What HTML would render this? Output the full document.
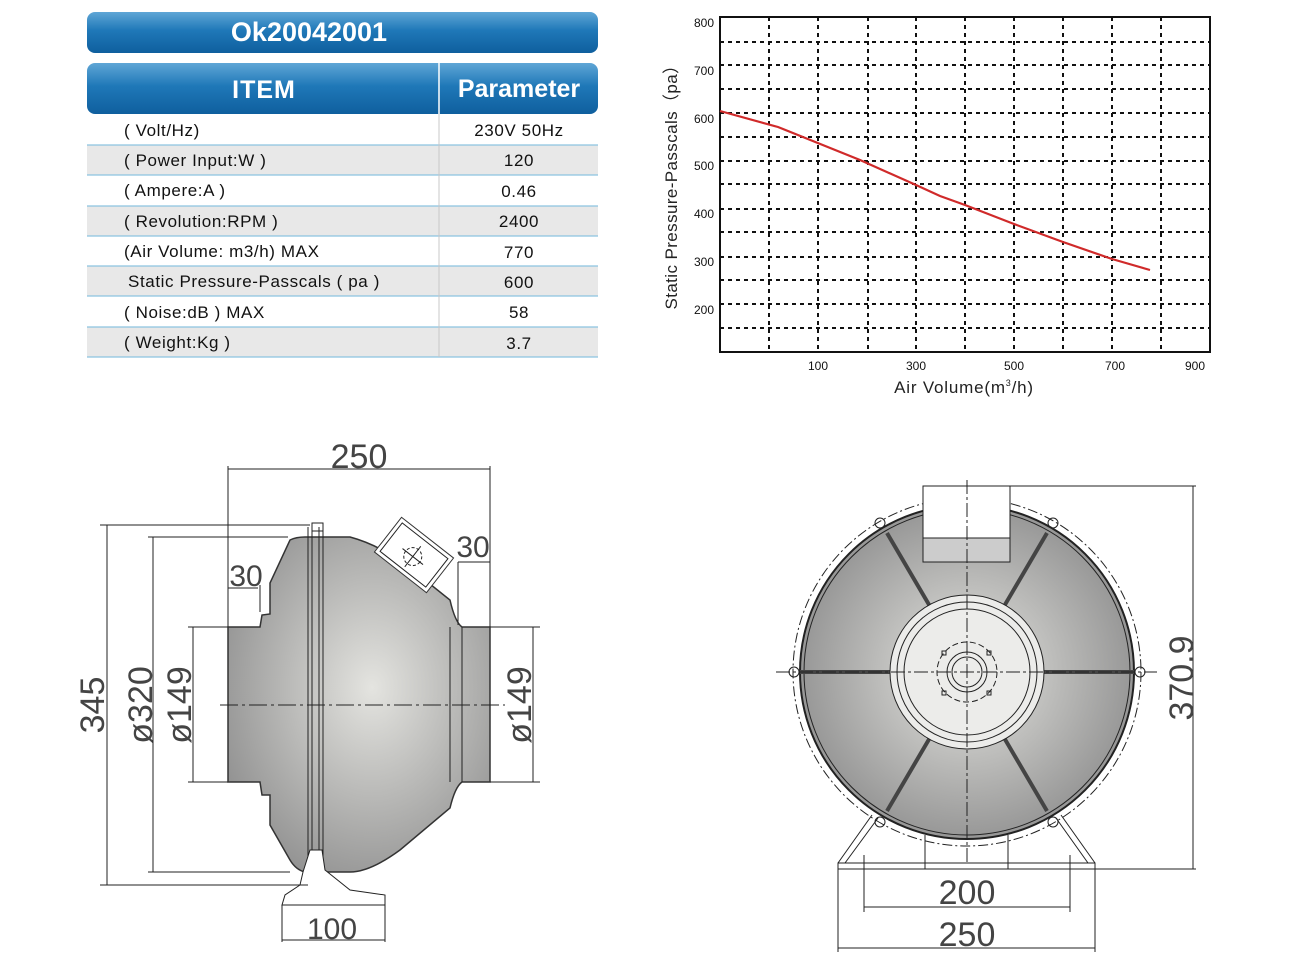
<!DOCTYPE html>
<html><head><meta charset="utf-8"><style>
html,body{margin:0;padding:0;background:#fff;}
svg{display:block;font-family:"Liberation Sans",sans-serif;}
</style></head><body>
<svg width="1309" height="957" viewBox="0 0 1309 957" xmlns="http://www.w3.org/2000/svg">
<defs>
<linearGradient id="bl" x1="0" y1="0" x2="0" y2="1">
<stop offset="0" stop-color="#5fa6d6"/><stop offset="0.45" stop-color="#1f78b8"/><stop offset="1" stop-color="#0f5f9e"/>
</linearGradient>
<radialGradient id="gr" cx="0.55" cy="0.45" r="0.65">
<stop offset="0" stop-color="#e4e4e0"/><stop offset="1" stop-color="#8e8e8e"/>
</radialGradient>
<radialGradient id="gr2" cx="0.5" cy="0.5" r="0.55">
<stop offset="0" stop-color="#e6e6e2"/><stop offset="1" stop-color="#8f8f8f"/>
</radialGradient>
</defs>

<!-- Table -->
<rect x="87" y="12" width="511" height="41" rx="8" fill="url(#bl)"/>
<text x="309" y="41" font-size="27" font-weight="bold" fill="#fff" text-anchor="middle">Ok20042001</text>
<rect x="87" y="63" width="511" height="51" rx="8" fill="url(#bl)"/>
<line x1="439" y1="63" x2="439" y2="114" stroke="#fff" stroke-width="1.5"/>
<text x="264" y="98" font-size="25" fill="#fff" text-anchor="middle" font-weight="bold" letter-spacing="1">ITEM</text>
<text x="519" y="97" font-size="25" fill="#fff" text-anchor="middle" font-weight="bold">Parameter</text>
<g font-size="17" fill="#111" letter-spacing="0.6">
<rect x="87" y="145" width="511" height="30" fill="#e8e8e8"/>
<rect x="87" y="206" width="511" height="30" fill="#e8e8e8"/>
<rect x="87" y="266" width="511" height="30" fill="#e8e8e8"/>
<rect x="87" y="327" width="511" height="30" fill="#e8e8e8"/>
<g stroke="#8cc3e0" stroke-width="1.2">
<line x1="87" y1="145" x2="598" y2="145"/><line x1="87" y1="175" x2="598" y2="175"/>
<line x1="87" y1="206" x2="598" y2="206"/><line x1="87" y1="236" x2="598" y2="236"/>
<line x1="87" y1="266" x2="598" y2="266"/><line x1="87" y1="296" x2="598" y2="296"/>
<line x1="87" y1="327" x2="598" y2="327"/><line x1="87" y1="357" x2="598" y2="357"/>
</g>
<line x1="439" y1="114" x2="439" y2="357" stroke="#c8c8c8"/>
<text x="124" y="136">( Volt/Hz)</text><text x="519" y="136" text-anchor="middle">230V  50Hz</text>
<text x="124" y="166">( Power Input:W )</text><text x="519" y="166" text-anchor="middle">120</text>
<text x="124" y="196">( Ampere:A )</text><text x="519" y="197" text-anchor="middle">0.46</text>
<text x="124" y="227">( Revolution:RPM )</text><text x="519" y="227" text-anchor="middle">2400</text>
<text x="124" y="257">(Air Volume: m3/h) MAX</text><text x="519" y="258" text-anchor="middle">770</text>
<text x="128" y="287">Static Pressure-Passcals ( pa )</text><text x="519" y="288" text-anchor="middle">600</text>
<text x="124" y="318">( Noise:dB ) MAX</text><text x="519" y="318" text-anchor="middle">58</text>
<text x="124" y="348">( Weight:Kg )</text><text x="519" y="349" text-anchor="middle">3.7</text>
</g>

<!-- Chart -->
<g stroke="#111" stroke-width="2" stroke-dasharray="4,4">
<line x1="769" y1="17" x2="769" y2="352"/><line x1="818" y1="17" x2="818" y2="352"/>
<line x1="868" y1="17" x2="868" y2="352"/><line x1="916" y1="17" x2="916" y2="352"/>
<line x1="965" y1="17" x2="965" y2="352"/><line x1="1014" y1="17" x2="1014" y2="352"/>
<line x1="1063" y1="17" x2="1063" y2="352"/><line x1="1112" y1="17" x2="1112" y2="352"/>
<line x1="1161" y1="17" x2="1161" y2="352"/>
<line x1="720" y1="42" x2="1210" y2="42"/><line x1="720" y1="65" x2="1210" y2="65"/>
<line x1="720" y1="89" x2="1210" y2="89"/><line x1="720" y1="113" x2="1210" y2="113"/>
<line x1="720" y1="137" x2="1210" y2="137"/><line x1="720" y1="161" x2="1210" y2="161"/>
<line x1="720" y1="184" x2="1210" y2="184"/><line x1="720" y1="209" x2="1210" y2="209"/>
<line x1="720" y1="232" x2="1210" y2="232"/><line x1="720" y1="257" x2="1210" y2="257"/>
<line x1="720" y1="280" x2="1210" y2="280"/><line x1="720" y1="304" x2="1210" y2="304"/>
<line x1="720" y1="328" x2="1210" y2="328"/>
</g>
<rect x="720" y="17" width="490" height="335" fill="none" stroke="#111" stroke-width="2"/>
<polyline points="720,111 778,127 860,160 916,185 940,196 965,205 1014,224 1063,242 1112,259 1150,270" fill="none" stroke="#d02a2a" stroke-width="2.2"/>
<g font-size="12" fill="#111" text-anchor="end">
<text x="714" y="27">800</text><text x="714" y="75">700</text><text x="714" y="123">600</text>
<text x="714" y="170">500</text><text x="714" y="218">400</text><text x="714" y="266">300</text><text x="714" y="314">200</text>
</g>
<g font-size="12" fill="#111" text-anchor="middle">
<text x="818" y="370">100</text><text x="916" y="370">300</text><text x="1014" y="370">500</text>
<text x="1115" y="370">700</text><text x="1195" y="370">900</text>
</g>
<text x="964" y="393" font-size="17" fill="#222" text-anchor="middle" letter-spacing="0.8">Air Volume(m<tspan font-size="9" dy="-7">3</tspan><tspan dy="7">/h)</tspan></text>
<text transform="translate(677,183) rotate(-90)" font-size="17" fill="#222" text-anchor="middle" letter-spacing="0.4">Static Pressure-Passcals（pa）</text>

<!-- Left drawing -->
<g fill="none" stroke="#222" stroke-width="1">
<path d="M228,627 L260,627 L262,615 L270,614 L270,583 L290,540 Q296,537 305,537 L350,537 Q380,545 410,568 L450,600 Q455,622 462,627 L490,627 L490,782 L462,782 Q455,787 450,808 L400,850 Q370,872 350,872 L305,872 Q296,870 290,860 L270,825 L270,795 L262,795 L260,782 L228,782 Z" fill="url(#gr)" stroke="#333" stroke-width="1.5"/>
<line x1="308" y1="527" x2="308" y2="880"/><line x1="312" y1="527" x2="312" y2="880"/>
<line x1="319" y1="527" x2="319" y2="880"/><line x1="323" y1="527" x2="323" y2="880"/>
<rect x="312" y="523" width="11" height="8"/>
<line x1="450" y1="627" x2="450" y2="782"/><line x1="462" y1="627" x2="462" y2="782"/>
<line x1="220" y1="705" x2="505" y2="705" stroke-dasharray="18,4,3,4"/>
<g transform="translate(414,555) rotate(38)"><rect x="-33" y="-22" width="66" height="44" fill="#fff" stroke="#333"/><rect x="-29" y="-18" width="58" height="36"/><circle cx="0" cy="2" r="9" stroke-dasharray="3,2"/><line x1="-13" y1="2" x2="13" y2="2"/><line x1="0" y1="-11" x2="0" y2="15"/></g>
<path d="M303,872 L300,885 L285,895 L282,905 L385,905 L385,895 L350,890 L325,870 L322,850 L310,850 Z" fill="#fff"/>
<line x1="282" y1="905" x2="282" y2="942"/><line x1="385" y1="905" x2="385" y2="942"/>
<line x1="282" y1="940" x2="385" y2="940"/>
<line x1="228" y1="466" x2="228" y2="627"/><line x1="490" y1="466" x2="490" y2="627"/>
<line x1="228" y1="469" x2="490" y2="469"/>
<line x1="100" y1="525" x2="310" y2="525"/><line x1="100" y1="885" x2="308" y2="885"/>
<line x1="107" y1="525" x2="107" y2="885"/>
<line x1="148" y1="537" x2="288" y2="537"/><line x1="148" y1="872" x2="290" y2="872"/>
<line x1="153" y1="537" x2="153" y2="872"/>
<line x1="188" y1="627" x2="228" y2="627"/><line x1="188" y1="782" x2="228" y2="782"/>
<line x1="193" y1="627" x2="193" y2="782"/>
<line x1="490" y1="627" x2="540" y2="627"/><line x1="490" y1="782" x2="540" y2="782"/>
<line x1="533" y1="627" x2="533" y2="782"/>
<line x1="228" y1="588" x2="258" y2="588"/><line x1="260" y1="585" x2="260" y2="612"/>
<line x1="458" y1="562" x2="490" y2="562"/><line x1="458" y1="562" x2="458" y2="625"/>
</g>
<g fill="#444" font-size="34" text-anchor="middle">
<text x="359" y="468">250</text>
<text x="332" y="939" font-size="30">100</text>
<text x="246" y="586" font-size="30">30</text>
<text x="473" y="557" font-size="30">30</text>
<text transform="translate(104,705) rotate(-90)">345</text>
<text transform="translate(152,705) rotate(-90)">ø320</text>
<text transform="translate(191,705) rotate(-90)">ø149</text>
<text transform="translate(531,705) rotate(-90)">ø149</text>
</g>

<!-- Right drawing -->
<g fill="none" stroke="#222" stroke-width="1">
<circle cx="967" cy="672" r="174" stroke-dasharray="10,3,2,3"/>
<circle cx="967" cy="672" r="167" fill="url(#gr2)" stroke-width="2"/>
<circle cx="967" cy="672" r="163"/>
<g stroke-width="4" stroke="#444"><line x1="887" y1="533" x2="945" y2="632"/><line x1="1047" y1="533" x2="989" y2="632"/>
<line x1="887" y1="811" x2="945" y2="712"/><line x1="1047" y1="811" x2="989" y2="712"/>
<line x1="800" y1="672" x2="928" y2="672"/><line x1="1006" y1="672" x2="1134" y2="672"/></g>
<circle cx="967" cy="672" r="77" fill="#ececea"/>
<circle cx="967" cy="672" r="70"/>
<circle cx="967" cy="672" r="63"/>
<circle cx="967" cy="672" r="30" stroke-dasharray="6,3"/>
<circle cx="967" cy="672" r="20"/><circle cx="967" cy="672" r="15"/>
<rect x="942" y="651" width="4" height="4"/><rect x="987" y="651" width="4" height="4"/>
<rect x="942" y="691" width="4" height="4"/><rect x="987" y="691" width="4" height="4"/>
<rect x="923" y="486" width="87" height="76" fill="#fff"/>
<rect x="923" y="538" width="87" height="24" fill="#ccc"/>
<circle cx="880" cy="523" r="5"/><circle cx="1053" cy="523" r="5"/>
<circle cx="880" cy="822" r="5"/><circle cx="1053" cy="822" r="5"/>
<circle cx="794" cy="672" r="5"/><circle cx="1140" cy="672" r="5"/>
<line x1="967" y1="480" x2="967" y2="870" stroke-dasharray="14,3,3,3"/>
<line x1="776" y1="672" x2="1157" y2="672" stroke-dasharray="14,3,3,3"/>
<rect x="838" y="863" width="257" height="6" fill="#fff"/>
<line x1="838" y1="863" x2="872" y2="815"/><line x1="845" y1="863" x2="878" y2="818"/>
<line x1="1095" y1="863" x2="1061" y2="815"/><line x1="1088" y1="863" x2="1056" y2="818"/>
<line x1="925" y1="835" x2="925" y2="869"/><line x1="1008" y1="835" x2="1008" y2="869"/>
<line x1="864" y1="855" x2="864" y2="912"/><line x1="1070" y1="855" x2="1070" y2="912"/>
<line x1="838" y1="869" x2="838" y2="952"/><line x1="1095" y1="869" x2="1095" y2="952"/>
<line x1="864" y1="907" x2="1070" y2="907"/><line x1="838" y1="948" x2="1095" y2="948"/>
<line x1="1010" y1="486" x2="1196" y2="486"/><line x1="1095" y1="869" x2="1196" y2="869"/>
<line x1="1193" y1="486" x2="1193" y2="869"/>
</g>
<g fill="#444" font-size="34" text-anchor="middle">
<text x="967" y="904">200</text>
<text x="967" y="946">250</text>
<text transform="translate(1193,678) rotate(-90)">370.9</text>
</g>
</svg>
</body></html>
